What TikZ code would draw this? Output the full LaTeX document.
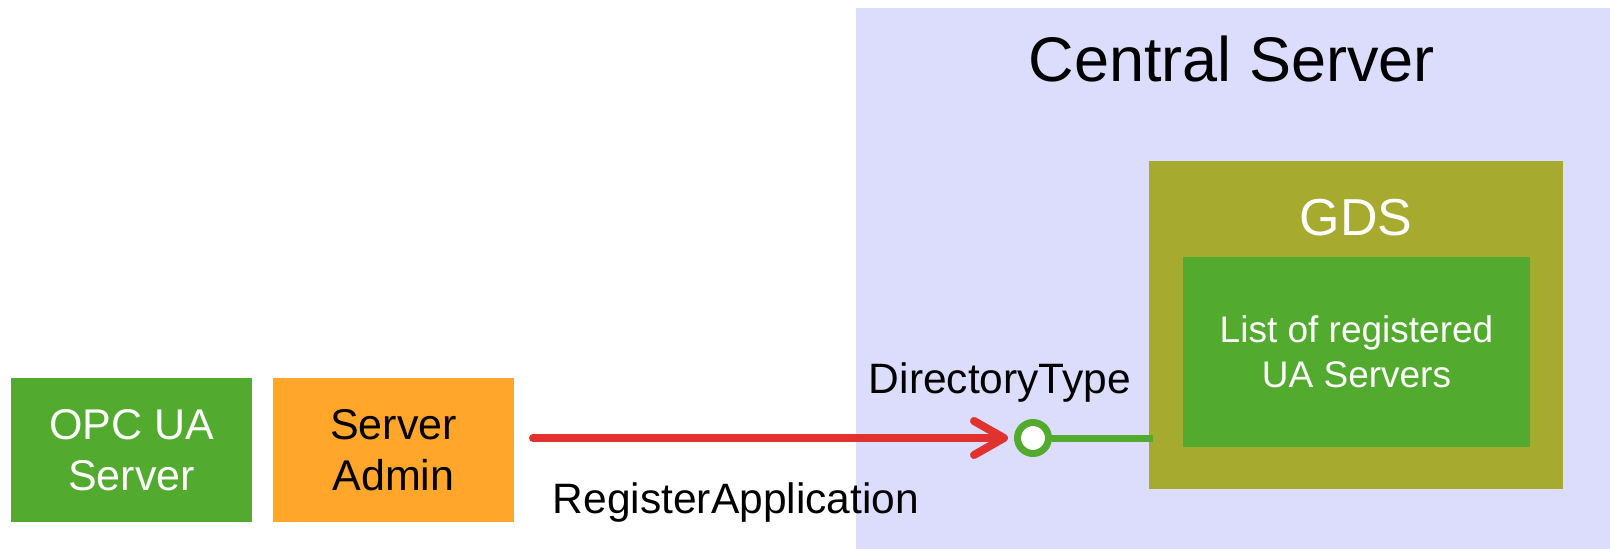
\documentclass[tikz,border=0pt]{standalone}
\usepackage{fontspec}
\setmainfont{Liberation Sans}
\usetikzlibrary{arrows.meta,calc}

\definecolor{uagreen}{RGB}{82,170,46}
\definecolor{uaorange}{RGB}{255,166,43}
\definecolor{uaolive}{RGB}{166,170,46}
\definecolor{ualavender}{RGB}{220,220,252}
\definecolor{uared}{RGB}{224,50,46}

\tikzset{
  block/.style={rectangle, inner sep=0pt, outer sep=0pt, draw=none},
  labeltext/.style={inner sep=0pt, anchor=base, font=\fontsize{42.5}{50}\selectfont},
  boxtext/.style={align=center, font=\fontsize{43}{51}\selectfont},
  port/.style={circle, draw=uagreen, fill=white, line width=7pt, minimum size=31pt, inner sep=0pt},
  callarrow/.style={draw=uared, line width=8pt, line cap=round,
    -{Straight Barb[length=30pt, width=34pt, round]},
    preaction={draw=black, opacity=0.18, transform canvas={shift={(1pt,-3pt)}}}},
  portline/.style={draw=uagreen, line width=7pt}
}

\begin{document}
\begin{tikzpicture}[x=1pt, y=-1pt]
  \useasboundingbox (0,0) rectangle (1610,549);

  % central server area
  \node[block, fill=ualavender, minimum width=754pt, minimum height=541pt] (central) at (1233,278.5) {};
  \node[inner sep=0pt, anchor=base, font=\fontsize{63}{72}\selectfont] (centraltitle) at (1232,81) {Central Server};

  % GDS and its list
  \node[block, fill=uaolive, minimum width=414pt, minimum height=328pt] (gds) at (1356,325) {};
  \node[inner sep=0pt, anchor=base, text=white, font=\fontsize{52}{60}\selectfont] (gdstitle) at (1356,235) {GDS};
  \node[block, fill=uagreen, minimum width=347pt, minimum height=190pt, text=white,
        align=center, font=\fontsize{37}{45}\selectfont] (list) at (1356.5,352)
        {List of registered\\UA Servers};

  % client side
  \node[block, fill=uagreen, minimum width=241pt, minimum height=144pt, boxtext, text=white] (opc) at (131.5,450) {OPC UA\\Server};
  \node[block, fill=uaorange, minimum width=241pt, minimum height=144pt, boxtext] (admin) at (393.5,450) {Server\\Admin};

  % directory interface
  \coordinate (gdsport) at ($(gds.west)+(4,112)$);
  \node[port] (dir) at (1033,438) {};
  \draw[portline] (dir.east) -- (dir.east -| gdsport);
  \node[labeltext] (dirlabel) at (1000,393) {DirectoryType};

  % registration call
  \draw[callarrow, shorten <=19pt, shorten >=6pt] (admin.east |- dir.west) -- (dir.west);
  \node[labeltext] (reglabel) at (736,513) {RegisterApplication};
\end{tikzpicture}
\end{document}
